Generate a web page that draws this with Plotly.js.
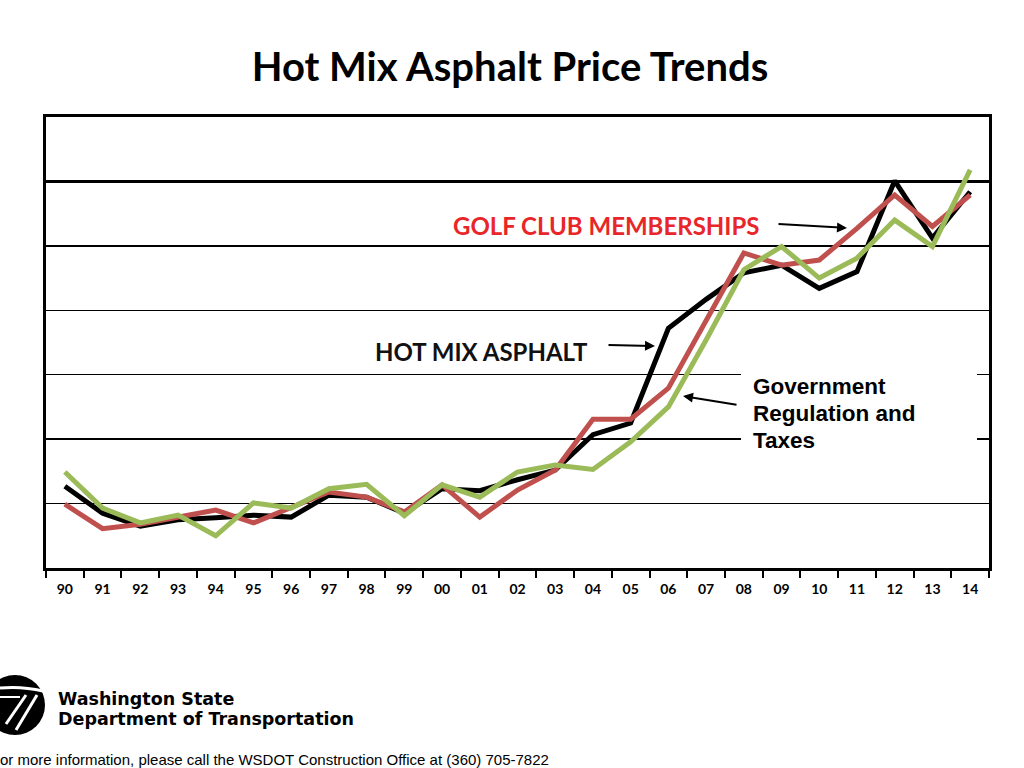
<!DOCTYPE html>
<html>
<head>
<meta charset="utf-8">
<script src="https://cdn.plot.ly/plotly-3.0.1.min.js"></script>
<style>html,body{margin:0;padding:0;background:#fff;}#chart{width:1024px;height:768px;}</style>
</head>
<body>
<div id="chart"></div>
<script>
// ---- data ----
const years = ['90','91','92','93','94','95','96','97','98','99','00','01','02','03','04','05','06','07','08','09','10','11','12','13','14'];
const hotMixAsphalt = [1.27,0.85,0.65,0.75,0.78,0.82,0.79,1.13,1.10,0.85,1.23,1.20,1.37,1.52,2.07,2.25,3.72,4.17,4.58,4.70,4.34,4.60,6.01,5.12,5.84];
const golfClubMemberships = [0.99,0.61,0.68,0.79,0.90,0.70,0.93,1.18,1.10,0.87,1.29,0.79,1.21,1.52,2.31,2.31,2.79,3.85,4.89,4.70,4.78,5.27,5.79,5.30,5.79];
const govRegulationTaxes = [1.49,0.93,0.70,0.82,0.50,1.01,0.93,1.23,1.30,0.81,1.29,1.10,1.49,1.60,1.53,1.96,2.50,3.54,4.63,4.99,4.50,4.81,5.40,4.99,6.18];
const gridValues = [1,2,3,4,5,6];

const W = 1024, H = 768;
const px = v => v / W;
const py = v => 1 - v / H;

const traces = [
  {x: years, y: hotMixAsphalt, type: 'scatter', mode: 'lines', name: 'HOT MIX ASPHALT',
   line: {color: '#000000', width: 5}},
  {x: years, y: golfClubMemberships, type: 'scatter', mode: 'lines', name: 'GOLF CLUB MEMBERSHIPS',
   line: {color: '#c0504d', width: 5}},
  {x: years, y: govRegulationTaxes, type: 'scatter', mode: 'lines', name: 'Government Regulation and Taxes',
   line: {color: '#9bbb59', width: 5}}
];

const layout = {
  width: W, height: H,
  margin: {l: 0, r: 0, t: 0, b: 0},
  paper_bgcolor: '#ffffff', plot_bgcolor: '#ffffff',
  showlegend: false,
  title: {text: '<b>Hot Mix Asphalt Price Trends</b>', x: px(510), y: py(67), xanchor: 'center', yanchor: 'middle',
          xref: 'paper', yref: 'paper', font: {family: 'Lato', size: 40, color: '#000000'}},
  xaxis: {
    type: 'category', domain: [px(46), px(989)], range: [-0.5, 24.5],
    tickson: 'boundaries', ticks: 'outside', ticklen: 7, tickwidth: 2, tickcolor: '#000',
    ticklabelstandoff: 6,
    showline: true, linecolor: '#000', linewidth: 3, mirror: true,
    showgrid: false, zeroline: false,
    tickfont: {family: 'Lato', size: 14, color: '#000', weight: 'bold'},
    fixedrange: true
  },
  yaxis: {
    domain: [py(568), py(117)], range: [0, 7],
    tickmode: 'array', tickvals: gridValues, showticklabels: false, ticks: '',
    showgrid: true, gridcolor: '#000', gridwidth: 1.5,
    showline: true, linecolor: '#000', linewidth: 3, mirror: true,
    zeroline: false, fixedrange: true
  },
  shapes: [
    // heavier reference line at 6
    {type: 'line', xref: 'paper', yref: 'y', x0: px(46), x1: px(989), y0: 6, y1: 6,
     line: {color: '#000', width: 3}, layer: 'below'},
    // white box behind the government label
    {type: 'rect', xref: 'paper', yref: 'paper', x0: px(741), x1: px(977), y0: py(458), y1: py(368),
     fillcolor: '#ffffff', line: {width: 0}, layer: 'above'},
    // WSDOT logo
    {type: 'circle', xref: 'paper', yref: 'paper', x0: px(-15), x1: px(45), y0: py(735), y1: py(675),
     fillcolor: '#000', line: {width: 0}},
    {type: 'path', xref: 'paper', yref: 'paper',
     path: `M ${px(0)},${py(688)} Q ${px(22)},${py(686)} ${px(43)},${py(691)}`,
     line: {color: '#fff', width: 3}},
    {type: 'line', xref: 'paper', yref: 'paper', x0: px(26), y0: py(695), x1: px(6), y1: py(724),
     line: {color: '#fff', width: 3}},
    {type: 'line', xref: 'paper', yref: 'paper', x0: px(37), y0: py(695), x1: px(16), y1: py(730),
     line: {color: '#fff', width: 3}},
    {type: 'line', xref: 'paper', yref: 'paper', x0: px(0), y0: py(697), x1: px(20), y1: py(697),
     line: {color: '#fff', width: 2}}
  ],
  annotations: [
    {text: '<b>GOLF CLUB MEMBERSHIPS</b>', xref: 'paper', yref: 'paper', x: px(451), y: py(225),
     xanchor: 'left', yanchor: 'middle', showarrow: false,
     font: {family: 'Lato', size: 24, color: '#e8262a'}},
    {text: '', xref: 'paper', yref: 'paper', x: px(847), y: py(228), ax: -70, ay: -4,
     showarrow: true, arrowhead: 2, arrowsize: 1, arrowwidth: 2, arrowcolor: '#000'},
    {text: '<b>HOT MIX ASPHALT</b>', xref: 'paper', yref: 'paper', x: px(373), y: py(352),
     xanchor: 'left', yanchor: 'middle', showarrow: false,
     font: {family: 'Lato', size: 24, color: '#111'}},
    {text: '', xref: 'paper', yref: 'paper', x: px(655), y: py(346), ax: -48, ay: -1,
     showarrow: true, arrowhead: 2, arrowsize: 1, arrowwidth: 2, arrowcolor: '#000'},
    {text: '<b>Government</b>', xref: 'paper', yref: 'paper', x: px(751), y: py(386),
     xanchor: 'left', yanchor: 'middle', showarrow: false,
     font: {family: 'Liberation Sans', size: 22.5, color: '#000'}},
    {text: '<b>Regulation and</b>', xref: 'paper', yref: 'paper', x: px(751), y: py(413),
     xanchor: 'left', yanchor: 'middle', showarrow: false,
     font: {family: 'Liberation Sans', size: 22.5, color: '#000'}},
    {text: '<b>Taxes</b>', xref: 'paper', yref: 'paper', x: px(751), y: py(440),
     xanchor: 'left', yanchor: 'middle', showarrow: false,
     font: {family: 'Liberation Sans', size: 22.5, color: '#000'}},
    {text: '', xref: 'paper', yref: 'paper', x: px(683), y: py(396), ax: 55, ay: 9,
     showarrow: true, arrowhead: 2, arrowsize: 1, arrowwidth: 2, arrowcolor: '#000'},
    {text: '<b>Washington State</b>', xref: 'paper', yref: 'paper', x: px(57), y: py(698.5),
     xanchor: 'left', yanchor: 'middle', showarrow: false, borderpad: 0,
     font: {family: 'DejaVu Sans', size: 17.5, color: '#000'}},
    {text: '<b>Department of Transportation</b>', xref: 'paper', yref: 'paper', x: px(57), y: py(719),
     xanchor: 'left', yanchor: 'middle', showarrow: false, borderpad: 0,
     font: {family: 'DejaVu Sans', size: 17.5, color: '#000'}},
    {text: 'or more information, please call the WSDOT Construction Office at (360) 705-7822', xref: 'paper', yref: 'paper',
     x: px(-2), y: py(759), xanchor: 'left', yanchor: 'middle', showarrow: false,
     font: {family: 'Liberation Sans', size: 15, color: '#000'}}
  ]
};

Plotly.newPlot('chart', traces, layout, {displayModeBar: false, staticPlot: true});
</script>
</body>
</html>
